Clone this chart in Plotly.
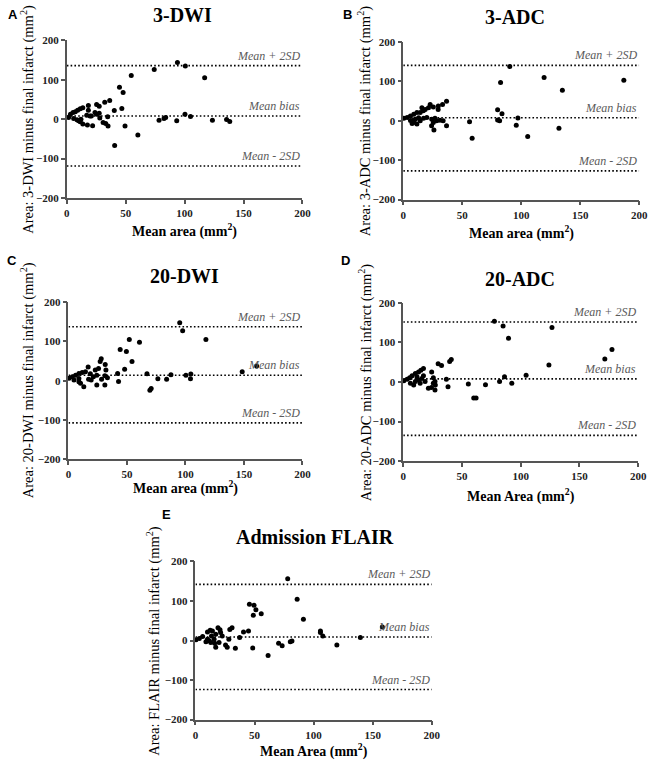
import plotly.graph_objects as go

W, H = 657, 764

# ---------------- data ----------------
a_x = [1.5, 3.1, 5.3, 7.2, 9.2, 11.4, 13.6, 5.8, 8.6, 10, 11.4, 13.6, 17.5, 21.9, 16.9, 19.7, 18.3, 18.3, 23.9, 25.3,
       27.5, 25.3, 27.5, 32.2, 36.4, 30.8, 33, 35, 34.7, 40.3, 46.7, 44.7, 47.8, 54.7, 49.4, 40.6, 60.3, 74.2, 78.3,
       82.5, 83.9, 93.3, 93.9, 100.6, 100.3, 105, 117, 123.6, 135.6, 138.3, 28, 20.8, 12]
a_y = [4, 12.5, 16.7, 19, 22.5, 26.7, 29, 1.7, -1.7, -4, -6.7, -12.5, -15, -16.7, 10, 8.3, 35, 22.5, 16.7, 37.5,
       33, 12.5, 15, 43, 47.5, -8.3, -10.8, -17.5, 6, 22, 27, 81, 68, 111, -17, -67, -40, 126, -2.5,
       2, 4, -4, 144, 135, 12.5, 7, 105, -3, -1, -6, 3, 8, 0]
a_lines = [136, 8, -119]

b_x = [0.5, 3.3, 6.1, 8.9, 11.6, 14.4, 15.8, 18.6, 21.4, 22.8, 25.5, 29.7, 33.3, 36.7,
       6.1, 8.9, 10.3, 13, 14.4, 17.2, 20, 24.2, 25.5, 26.9, 28.3, 31.1, 33.8,
       26, 24, 36.7, 11.6, 7.5,
       56.2, 58.4, 80, 81.7, 82.5, 83.7, 80, 90.3, 97.2, 95.8, 105.5, 119.4, 132, 134.9, 187,
       29.6, 9, 17]
b_y = [6.7, 8.3, 12.5, 16.7, 21, 21, 33, 29, 33, 41.7, 35, 37.5, 41.7, 50,
       0.8, -4, 4, 8, 0, 6.7, 8.3, 4, -4, 6.7, 0, 1.7, 0,
       -23, -12.5, -12.5, -8, -6.7,
       -2.5, -44, 2, 0, 97.5, 18, 28, 138, 7, -11, -40, 110, -19, 78, 103,
       29, 2, 26]
b_lines = [141, 8, -127]

c_x = [0.5, 3.3, 6.1, 8.9, 11.7, 14.5, 16.8, 18.7, 22.9, 25.7, 27.1, 28, 31.4, 32,
       4.7, 8.9, 8.9, 10.3, 13.1, 17.2, 19.4, 21.3, 24.2, 28.3, 31.1, 33.3, 24.2, 31.1,
       42, 42.8, 44.2, 48, 49.5, 52, 54.3, 60.7, 67.1, 69.6, 70.7, 76.4, 83.9, 87.6,
       95.1, 97.6, 100.4, 104.6, 104.3, 117.5, 148.5, 160.8]
c_y = [6, 10, 14, 18.5, 21, 22.5, 35, 18, 27, 31, 49, 56, 41, 27,
       1.7, 5.8, -2.3, -6.5, -15, 4, 1.7, 10, 14, 4, 12.5, 7.5, -10.8, -10.8,
       18.5, -2, 79, 29, 74, 105, 49, 98, 18, -24, -20, 5, 4, 15,
       147.5, 126.7, 14, 17, 5, 105, 23, 37.5]
c_lines = [137, 14, -107]

d_x = [0.5, 3.3, 5.5, 7.5, 10.3, 13, 15, 17.2,
       6.1, 8.9, 10.3, 13, 14.4, 15.8, 17.2, 11.7, 18.6,
       24.2, 25.6, 27, 25.6, 27.3, 21.4, 24,
       36.7, 38.1, 27, 29.7, 32.6, 39.5, 40.9,
       55.4, 60, 62, 70, 77.6, 82, 85, 86.2, 89.6, 92.4, 104.6, 124, 126.6, 171.6, 177.7]
d_y = [3, 7, 10.5, 16, 21.6, 25, 29.5, 34,
       -3, -7.5, 1, 5, -3, 9, 16, 13, 1,
       25, 10.5, 1, -3, -7.5, -16, -14,
       7, -12, -20, 46, 42, 52, 57,
       -5, -40.7, -40.7, -7, 154, 1, 142, 13, 111, -3, 17, 43, 138, 58, 82]
d_lines = [152, 8, -135]

e_x = [0.5, 3.3, 6.1, 8.9, 10.2, 12.5, 14.4, 13.6, 15.8, 17.2, 19.1, 20.8, 21.3, 22.7,
       10.2, 11.6, 13, 16.3, 17.2, 20,
       25.5, 26.9, 29.1, 31, 28.3, 33.8, 37.4, 40.7, 44.9, 48.5,
       45.7, 49.6, 51.2, 49, 55.7, 61.5, 70.4, 73.4,
       78.1, 80.3, 81.7, 86.1, 91.4, 105.8, 105.8, 107.8, 119.7, 139.6, 158.2]
e_y = [1.7, 5, 10, -3, 21.6, 26, 24, 11.7, 3.5, 16, 32.5, 27, 20, 11.7,
       3.5, -0.7, -4.8, -6.6, -17.3, -4.8,
       -11.5, -17, 28, 32.5, 3.5, -19.7, 7.5, 21.6, 24, -19,
       92, 89, 78, 64, 68, -38, -6.6, -13,
       156, -3.3, -1, 104.6, 54, 24, 20, 11.6, -11.6, 7.5, 34]
e_lines = [142, 9, -124]

line_labels = ["Mean + 2SD", "Mean bias", "Mean - 2SD"]
x_ticks = [0, 50, 100, 150, 200]
y_ticks = [-200, -100, 0, 100, 200]

panels = [
    dict(letter="A", title="3-DWI", x=a_x, y=a_y, lines=a_lines,
         ytitle="Area: 3-DWI minus final infarct (mm<sup>2</sup>)", xtitle="Mean area (mm<sup>2</sup>)",
         xpx=(65, 305), ypx=(35, 195), letter_pos=(3, 9), title_pos=(183, 9),
         ytitle_x=25, xtitle_y=228),
    dict(letter="B", title="3-ADC", x=b_x, y=b_y, lines=b_lines,
         ytitle="Area: 3-ADC minus final infarct (mm<sup>2</sup>)", xtitle="Mean area (mm<sup>2</sup>)",
         xpx=(407.7, 648), ypx=(36.7, 196.7), letter_pos=(344, 9), title_pos=(522, 11),
         ytitle_x=369, xtitle_y=230),
    dict(letter="C", title="20-DWI", x=c_x, y=c_y, lines=c_lines,
         ytitle="Area: 20-DWI minus final infarct (mm<sup>2</sup>)", xtitle="Mean area (mm<sup>2</sup>)",
         xpx=(66.7, 305), ypx=(300.7, 460.7), letter_pos=(2, 259), title_pos=(185, 274),
         ytitle_x=25, xtitle_y=489),
    dict(letter="D", title="20-ADC", x=d_x, y=d_y, lines=d_lines,
         ytitle="Area: 20-ADC minus final infarct (mm<sup>2</sup>)", xtitle="Mean Area (mm<sup>2</sup>)",
         xpx=(407.7, 647), ypx=(301.7, 462.3), letter_pos=(342, 259), title_pos=(527, 277),
         ytitle_x=369, xtitle_y=497),
    dict(letter="E", title="Admission FLAIR", x=e_x, y=e_y, lines=e_lines,
         ytitle="Area: FLAIR minus final infarct (mm<sup>2</sup>)", xtitle="Mean Area (mm<sup>2</sup>)",
         xpx=(196, 436.7), ypx=(564.3, 725), letter_pos=(160, 517), title_pos=(318, 539),
         ytitle_x=153, xtitle_y=756),
]

SERIF = "Liberation Serif"
AXC = "#555555"

fig = go.Figure()
layout = dict(width=W, height=H, margin=dict(l=0, r=0, t=0, b=0),
              paper_bgcolor="white", plot_bgcolor="white", showlegend=False, hovermode=False)
annotations = []
shapes = []


def px(xp):
    return xp / W


def py(yp):
    return 1 - yp / H


for i, p in enumerate(panels):
    n = "" if i == 0 else str(i + 1)
    xa, ya = "x" + n, "y" + n
    tickfont = dict(family=SERIF, size=11, color="#222", weight="bold")
    layout["xaxis" + n] = dict(
        domain=[px(p["xpx"][0]), px(p["xpx"][1])], anchor=ya, range=[0, 200],
        tickvals=x_ticks, ticks="outside", ticklen=4, tickwidth=1.5, tickcolor=AXC,
        showline=True, linecolor=AXC, linewidth=1.5, showgrid=False, zeroline=False,
        tickfont=tickfont, fixedrange=True)
    layout["yaxis" + n] = dict(
        domain=[py(p["ypx"][1]), py(p["ypx"][0])], anchor=xa, range=[-200, 200],
        tickvals=y_ticks, ticks="outside", ticklen=4, tickwidth=1.5, tickcolor=AXC,
        showline=True, linecolor=AXC, linewidth=1.5, showgrid=False, zeroline=False,
        tickfont=tickfont, fixedrange=True)

    fig.add_trace(go.Scatter(x=p["x"], y=p["y"], mode="markers", xaxis=xa, yaxis=ya,
                             marker=dict(size=5, color="black"), cliponaxis=False))

    for val, lab in zip(p["lines"], line_labels):
        shapes.append(dict(type="line", xref=xa, yref=ya, x0=0, x1=200, y0=val, y1=val,
                           line=dict(color="black", width=1.6, dash="1.6px,2.2px")))
        annotations.append(dict(xref=xa, yref=ya, x=200, y=val, text="<i>" + lab + "</i>",
                                showarrow=False, xanchor="right", yanchor="bottom", yshift=1,
                                font=dict(family=SERIF, size=12, color="#5a5a5a")))

    annotations.append(dict(xref="paper", yref="paper", x=px(p["letter_pos"][0]), y=py(p["letter_pos"][1]),
                            text="<b>" + p["letter"] + "</b>", showarrow=False, xanchor="left",
                            yanchor="middle", font=dict(family="Liberation Sans", size=13, color="black")))
    annotations.append(dict(xref="paper", yref="paper", x=px(p["title_pos"][0]), y=py(p["title_pos"][1]),
                            text="<b>" + p["title"] + "</b>", showarrow=False, xanchor="center",
                            yanchor="middle", font=dict(family=SERIF, size=20, color="black")))
    ymid = (p["ypx"][0] + p["ypx"][1]) / 2
    annotations.append(dict(xref="paper", yref="paper", x=px(p["ytitle_x"]), y=py(ymid),
                            text=p["ytitle"], showarrow=False, textangle=-90, xanchor="center",
                            yanchor="middle", font=dict(family=SERIF, size=14.5, color="black")))
    xmid = (p["xpx"][0] + p["xpx"][1]) / 2
    annotations.append(dict(xref="paper", yref="paper", x=px(xmid), y=py(p["xtitle_y"]),
                            text="<b>" + p["xtitle"] + "</b>", showarrow=False, xanchor="center",
                            yanchor="middle", font=dict(family=SERIF, size=14, color="black")))

layout["annotations"] = annotations
layout["shapes"] = shapes
fig.update_layout(**layout)
fig.write_html("out.html", config={"displayModeBar": False},
               post_script="document.body.style.margin='0';document.body.style.padding='0';"
                           "document.body.style.overflow='hidden';")
